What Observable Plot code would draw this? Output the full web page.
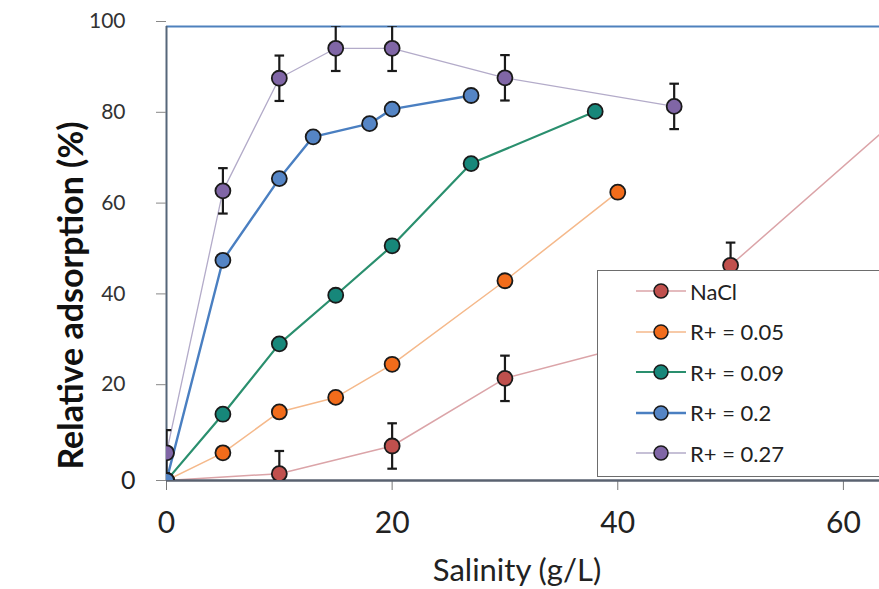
<!DOCTYPE html>
<html><head><meta charset="utf-8">
<script src="https://cdn.jsdelivr.net/npm/d3@7"></script>
<script src="https://cdn.jsdelivr.net/npm/@observablehq/plot@0.6"></script>
<style>
body{margin:0;background:#fff;overflow:hidden;}
#wrap{position:relative;width:879px;height:589px;overflow:hidden;font-family:Lato,sans-serif;}
#legend{position:absolute;left:597px;top:270px;width:320px;height:207px;background:#fff;border:1.5px solid #6d6d6d;box-sizing:border-box;padding-top:0px;}
.row{height:40.5px;display:flex;align-items:center;font-size:22px;color:#222;}
.row svg{margin-left:38px;margin-right:4px;}
</style></head><body><div id="wrap"></div>
<script>
// Series names (legend order)
const seriesNames = ["NaCl", "R+ = 0.05", "R+ = 0.09", "R+ = 0.2", "R+ = 0.27"];
// Salinity (g/L) and relative adsorption (%) per series
const naclX = [0, 10, 20, 30, 40, 50, 70];
const naclY = [0, 1.5, 7.6, 22.5, 29, 47.4, 91];
const naclErr = [0, 5, 5, 5, 5, 5, 5];
const r005X = [0, 5, 10, 15, 20, 30, 40];
const r005Y = [0, 6.1, 15.1, 18.3, 25.6, 44.0, 63.5];
const r009X = [0, 5, 10, 15, 20, 27, 38];
const r009Y = [0, 14.6, 30.1, 40.8, 51.7, 69.8, 81.3];
const r02X = [0, 5, 10, 13, 18, 20, 27];
const r02Y = [0, 48.5, 66.5, 75.7, 78.6, 81.8, 84.8];
const r027X = [0, 5, 10, 15, 20, 30, 45];
const r027Y = [6.1, 63.8, 88.6, 95.2, 95.2, 88.7, 82.4];
const r027Err = [5, 5, 5, 5, 5, 5, 5];
// Axis ticks
const xTicks = [0, 20, 40, 60];
const yTicks = [20, 40, 60, 80, 100];
const yZeroTick = [0];
const xLabel = "Salinity (g/L)";
const yLabel = "Relative adsorption (%)";

const lineColors = ["#dba4a8", "#f5b98b", "#2a8f6e", "#4a7fc1", "#b3abc9"];
const lineWidths = [1.5, 1.5, 2.2, 2.4, 1.3];
const dotColors = ["#c0504d", "#f26c1b", "#17877a", "#5585c5", "#8066a6"];

const xs = [naclX, r005X, r009X, r02X, r027X];
const ys = [naclY, r005Y, r009Y, r02Y, r027Y];
const errs = [naclErr, null, null, null, r027Err];

const data = [];
seriesNames.forEach((s, i) => xs[i].forEach((x, j) => data.push({series: s, idx: i, x, y: ys[i][j], e: errs[i] ? errs[i][j] : 0})));
const errData = data.filter(d => d.e > 0);

const capSymbol = {draw(ctx, size) { const w = Math.sqrt(size) ; ctx.moveTo(-w, 0); ctx.lineTo(w, 0); }};

const marks = [
  Plot.ruleY([100], {stroke: "#4f81bd", strokeWidth: 2}),
  Plot.ruleX([0], {stroke: "#56677a", strokeWidth: 2}),
  Plot.axisX({ticks: xTicks, tickSize: 10, tickPadding: 21, fontSize: 30, stroke: "#777", fill: "#222", label: null}),
  Plot.axisY({ticks: yTicks, tickSize: 10, tickPadding: 31, fontSize: 21, dy: -5, stroke: "#888", fill: "#333", label: null}),
  Plot.axisY({ticks: yZeroTick, tickSize: 10, tickPadding: 21, fontSize: 25, stroke: "#888", fill: "#222", label: null}),
  Plot.text([xLabel], {frameAnchor: "bottom", dx: -6, dy: 100, fontSize: 31, fill: "#222"}),
  Plot.text([yLabel], {frameAnchor: "left", textAnchor: "middle", rotate: -90, dx: -94, dy: 42, fontSize: 34, fontWeight: "bold", fill: "#111"}),
];
seriesNames.forEach((s, i) => {
  marks.push(Plot.line(data.filter(d => d.idx === i), {x: "x", y: "y", stroke: lineColors[i], strokeWidth: lineWidths[i], clip: true}));
});
marks.push(Plot.ruleY([0], {stroke: "#5a6270", strokeWidth: 2.5}));
marks.push(Plot.ruleX(errData, {x: "x", y1: d => d.y - d.e, y2: d => d.y + d.e, stroke: "#1a1a1a", strokeWidth: 2.2, clip: true}));
marks.push(Plot.dot(errData.flatMap(d => [{x: d.x, y: d.y - d.e}, {x: d.x, y: d.y + d.e}]), {x: "x", y: "y", symbol: capSymbol, r: 2.7, stroke: "#1a1a1a", strokeWidth: 2.2, clip: true}));
marks.push(Plot.dot(data, {x: "x", y: "y", r: 7.5, fill: d => dotColors[d.idx], stroke: "#1a1a1a", strokeWidth: 1.8, clip: true}));

const chart = Plot.plot({
  width: 879, height: 589,
  marginLeft: 166, marginRight: 0, marginTop: 26, marginBottom: 109,
  x: {domain: [0, 63.2]},
  y: {domain: [0, 100]},
  style: {fontFamily: "Lato, sans-serif", background: "#fff", overflow: "visible"},
  marks
});
const wrap = document.getElementById("wrap");
wrap.appendChild(chart);

const legend = document.createElement("div");
legend.id = "legend";
seriesNames.forEach((s, i) => {
  const row = document.createElement("div");
  row.className = "row";
  row.innerHTML = `<svg width="50" height="20"><line x1="0" y1="10" x2="50" y2="10" stroke="${lineColors[i]}" stroke-width="${Math.max(1.5, lineWidths[i])}"/><circle cx="25" cy="10" r="7" fill="${dotColors[i]}" stroke="#1a1a1a" stroke-width="1.5"/></svg><span>${s}</span>`;
  legend.appendChild(row);
});
wrap.appendChild(legend);
</script></body></html>
